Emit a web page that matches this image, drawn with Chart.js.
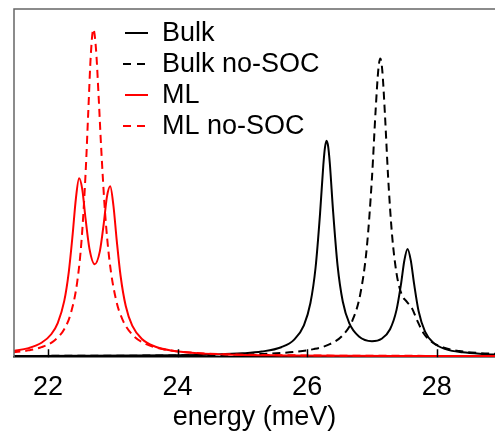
<!DOCTYPE html>
<html>
<head>
<meta charset="utf-8">
<script src="https://cdn.jsdelivr.net/npm/chart.js@4/dist/chart.umd.min.js"></script>
<style>
  html, body { margin: 0; padding: 0; background: #fff; overflow: hidden; }
  #wrap { width: 495px; height: 431px; overflow: hidden; }
</style>
</head>
<body>
<div id="wrap"><canvas id="c" width="495" height="434"></canvas></div>
<script>
// values (arbitrary intensity units)
const seriesNames = ["Bulk", "Bulk no-SOC", "ML", "ML no-SOC"];
const energyTicks = [22, 24, 26, 28];

const bulkE = [21.45, 22.5, 23.3, 24.0, 24.6, 25.0, 25.3, 25.6, 25.8, 25.95, 26.05, 26.13, 26.2, 26.25, 26.275, 26.30, 26.325, 26.35, 26.40, 26.47, 26.55, 26.65, 26.8, 27.0, 27.15, 27.28, 27.38, 27.45, 27.5, 27.55, 27.6, 27.65, 27.72, 27.82, 27.95, 28.15, 28.4, 28.7, 29.0];
const bulkI = [0.06, 0.11, 0.17, 0.28, 0.50, 0.82, 1.33, 2.58, 4.77, 8.88, 15.2, 25.4, 41.1, 54.9, 59.9, 61.9, 60.2, 55.4, 41.8, 26.0, 15.7, 9.47, 5.65, 4.31, 5.02, 7.74, 13.3, 20.8, 27.4, 30.8, 27.5, 20.9, 13.0, 7.07, 3.82, 1.96, 1.10, 0.66, 0.45];

const bulkNoSocE = [21.45, 22.5, 23.5, 24.3, 24.9, 25.4, 25.8, 26.1, 26.35, 26.55, 26.7, 26.82, 26.92, 27.0, 27.06, 27.10, 27.13, 27.16, 27.20, 27.25, 27.31, 27.38, 27.46, 27.54, 27.62, 27.70, 27.80, 27.92, 28.1, 28.35, 28.65, 29.0];
const bulkNoSocI = [0.07, 0.11, 0.17, 0.28, 0.45, 0.74, 1.24, 2.03, 3.45, 6.0, 10.3, 17.8, 31.0, 51.0, 71.5, 82.5, 85.5, 82.1, 69.8, 51.5, 35.0, 23.8, 17.7, 15.6, 13.7, 10.2, 6.5, 4.16, 2.51, 1.48, 0.92, 0.59];

const mlE = [21.45, 21.7, 21.9, 22.05, 22.15, 22.25, 22.32, 22.38, 22.43, 22.48, 22.53, 22.58, 22.64, 22.72, 22.80, 22.86, 22.91, 22.96, 23.01, 23.06, 23.12, 23.2, 23.3, 23.45, 23.65, 23.9, 24.3, 24.9, 25.6, 26.5, 27.5, 29.0];
const mlI = [1.43, 2.32, 3.85, 6.30, 9.52, 15.8, 24.1, 34.9, 45.2, 51.1, 47.8, 39.4, 30.8, 26.4, 30.1, 38.0, 45.8, 48.8, 43.2, 33.4, 23.1, 14.4, 8.76, 4.93, 2.78, 1.64, 0.88, 0.42, 0.23, 0.10, 0.05, 0.03];

const mlNoSocE = [21.45, 21.7, 21.9, 22.1, 22.25, 22.35, 22.45, 22.52, 22.58, 22.62, 22.66, 22.70, 22.74, 22.78, 22.82, 22.88, 22.95, 23.05, 23.15, 23.3, 23.5, 23.8, 24.2, 24.8, 25.5, 26.5, 27.5, 29.0];
const mlNoSocI = [1.08, 1.68, 2.60, 4.53, 7.76, 12.2, 21.2, 33.8, 52.5, 69.5, 86.3, 93.9, 88.4, 75.1, 60.1, 41.4, 27.3, 16.2, 10.5, 6.23, 3.61, 1.94, 1.06, 0.54, 0.31, 0.15, 0.10, 0.05];

const FONT = '"Liberation Sans", Arial, sans-serif';

const pts = (xs, ys) => xs.map((x, i) => ({ x, y: ys[i] }));

function line(label, xs, ys, color, dash, order) {
  return {
    label,
    data: pts(xs, ys),
    borderColor: color,
    borderWidth: 2,
    borderDash: dash,
    pointRadius: 0,
    fill: false,
    cubicInterpolationMode: "monotone",
    order,
  };
}

/* frame (top + left), inward ticks, legend inside the plot */
const framePlugin = {
  id: "frame",
  afterDraw(chart) {
    const { ctx, chartArea: a, scales } = chart;
    ctx.save();
    ctx.strokeStyle = "#666";
    ctx.lineWidth = 1.5;
    ctx.beginPath();
    ctx.moveTo(a.left, a.bottom);
    ctx.lineTo(a.left, a.top);
    ctx.lineTo(a.right + 2, a.top);
    ctx.stroke();

    ctx.strokeStyle = "#000";
    ctx.beginPath();
    energyTicks.forEach((v) => {
      const x = Math.round(scales.x.getPixelForValue(v)) + 0.5;
      ctx.moveTo(x, a.bottom);
      ctx.lineTo(x, a.bottom - 8);
    });
    ctx.stroke();

    // legend
    ctx.font = "27px " + FONT;
    ctx.textBaseline = "middle";
    ctx.fillStyle = "#000";
    seriesNames.forEach((name, row) => {
      const ds = chart.data.datasets.find((d) => d.label === name);
      const y = 33 + row * 31;
      ctx.strokeStyle = ds.borderColor;
      ctx.lineWidth = 2;
      ctx.setLineDash(ds.borderDash.length ? [8, 6] : []);
      ctx.beginPath();
      ctx.moveTo(ds.borderDash.length ? 123 : 125, y);
      ctx.lineTo(148, y);
      ctx.stroke();
      ctx.setLineDash([]);
      ctx.fillText(name, 162, y + 1);
    });
    ctx.restore();
  },
};

new Chart(document.getElementById("c"), {
  type: "line",
  data: {
    datasets: [
      line(seriesNames[0], bulkE, bulkI, "#000000", [], 2),
      line(seriesNames[1], bulkNoSocE, bulkNoSocI, "#000000", [8, 5], 3),
      line(seriesNames[2], mlE, mlI, "#ff0000", [], 0),
      line(seriesNames[3], mlNoSocE, mlNoSocI, "#ff0000", [8, 5], 1),
    ],
  },
  options: {
    responsive: false,
    animation: false,
    layout: { padding: { left: 14, top: 9, right: 0, bottom: 0 } },
    plugins: { legend: { display: false }, tooltip: { enabled: false } },
    scales: {
      x: {
        type: "linear",
        min: 21.475,
        max: 28.9,
        afterBuildTicks: (s) => { s.ticks = energyTicks.map((v) => ({ value: v })); },
        ticks: { padding: 14, color: "#000", maxRotation: 0, autoSkip: false, font: { size: 27, family: FONT } },
        grid: { display: false, drawTicks: false },
        border: { display: true, color: "#000", width: 1.5 },
        title: { display: true, text: "energy (meV)", color: "#000", font: { size: 27, family: FONT }, padding: { top: -16, bottom: 0 } },
      },
      y: { display: false, min: -0.29, max: 99.7 },
    },
  },
  plugins: [framePlugin],
});
</script>
</body>
</html>
